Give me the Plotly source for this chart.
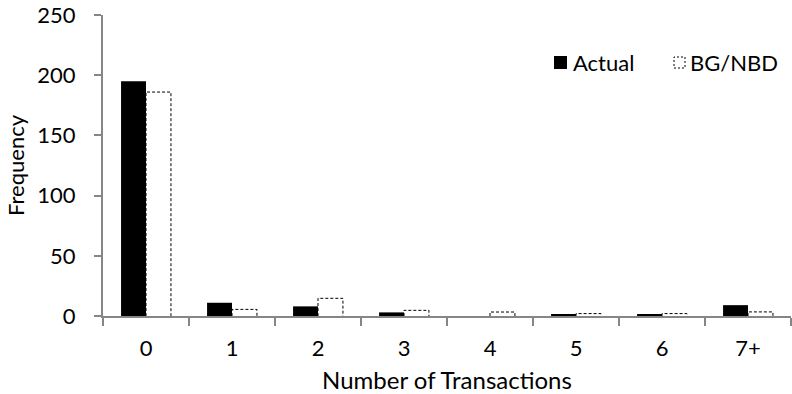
import plotly.graph_objects as go

categories = ["0", "1", "2", "3", "4", "5", "6", "7+"]
actual = [195, 11, 8, 3, 0, 1, 1, 9]
bgnbd = [186, 5.5, 14.7, 4.7, 3.3, 2, 2, 3.4]
y_ticks = [0, 50, 100, 150, 200, 250]

W = 0.29
idx = list(range(len(categories)))
FONT = dict(family="Lato, Liberation Sans, sans-serif", size=22, color="#000000")
TITLE_FONT = dict(family="Lato, Liberation Sans, sans-serif", size=24, color="#000000")
AXIS_COLOR = "#868686"

fig = go.Figure()
fig.add_trace(go.Bar(x=idx, y=actual, width=W, offset=-W,
                     marker=dict(color="#000000", line=dict(width=0)),
                     name="Actual", showlegend=False))

# dotted outlines for BG/NBD bars
xs, ys = [], []
for i, v in zip(idx, bgnbd):
    xs += [i, i, i + W, i + W, None]
    ys += [0, v, v, 0, None]
fig.add_trace(go.Scatter(x=xs, y=ys, mode="lines",
                         line=dict(color="#000000", width=1, dash="3px,2px"),
                         name="BG/NBD", showlegend=False, hoverinfo="skip"))

L, R, T, B = 103, 1, 15, 78
PW, PH = 792 - L - R, 394 - T - B

def px(x):
    return (x - L) / PW

def py(y):
    return (394 - B - y) / PH

# custom legend
fig.add_shape(type="rect", xref="paper", yref="paper",
              x0=px(554), x1=px(567), y0=py(69), y1=py(56),
              fillcolor="#000000", line=dict(width=0))
fig.add_annotation(xref="paper", yref="paper", x=px(571), y=py(62),
                   text="Actual", showarrow=False, xanchor="left", yanchor="middle",
                   font=FONT)
fig.add_shape(type="rect", xref="paper", yref="paper",
              x0=px(674), x1=px(685), y0=py(68), y1=py(57),
              fillcolor="rgba(0,0,0,0)", line=dict(width=1, color="#000000", dash="2px,2px"))
fig.add_annotation(xref="paper", yref="paper", x=px(688), y=py(62),
                   text="BG/NBD", showarrow=False, xanchor="left", yanchor="middle",
                   font=FONT)

fig.update_layout(
    width=792, height=394,
    margin=dict(l=L, r=R, t=T, b=B, autoexpand=False),
    paper_bgcolor="white", plot_bgcolor="white",
    font=FONT,
    barmode="overlay",
    showlegend=False,
    xaxis=dict(
        range=[-0.5, len(categories) - 0.5],
        tickmode="array", tickvals=idx, ticktext=categories,
        ticks="", showgrid=False, zeroline=False,
        showline=True, linecolor=AXIS_COLOR, linewidth=2,
        minor=dict(tickmode="array", tickvals=[i - 0.5 for i in range(len(categories) + 1)],
                   ticks="outside", ticklen=8, tickwidth=2, tickcolor=AXIS_COLOR, showgrid=False),
        title=dict(text="Number of Transactions", font=TITLE_FONT, standoff=12),
        ticklabelstandoff=12,
        automargin=False,
        fixedrange=True,
    ),
    yaxis=dict(
        range=[0, 250], tickmode="array", tickvals=y_ticks,
        ticks="outside", ticklen=7, tickwidth=2, tickcolor=AXIS_COLOR,
        showgrid=False, zeroline=False,
        showline=True, linecolor=AXIS_COLOR, linewidth=2,
        title=dict(text="Frequency", font=FONT, standoff=7),
        ticklabelstandoff=14,
        automargin=False,
        fixedrange=True,
    ),
)

fig.write_html(
    "out.html",
    config={"displayModeBar": False},
    post_script="document.body.style.margin='0';document.body.style.overflow='hidden';",
)
